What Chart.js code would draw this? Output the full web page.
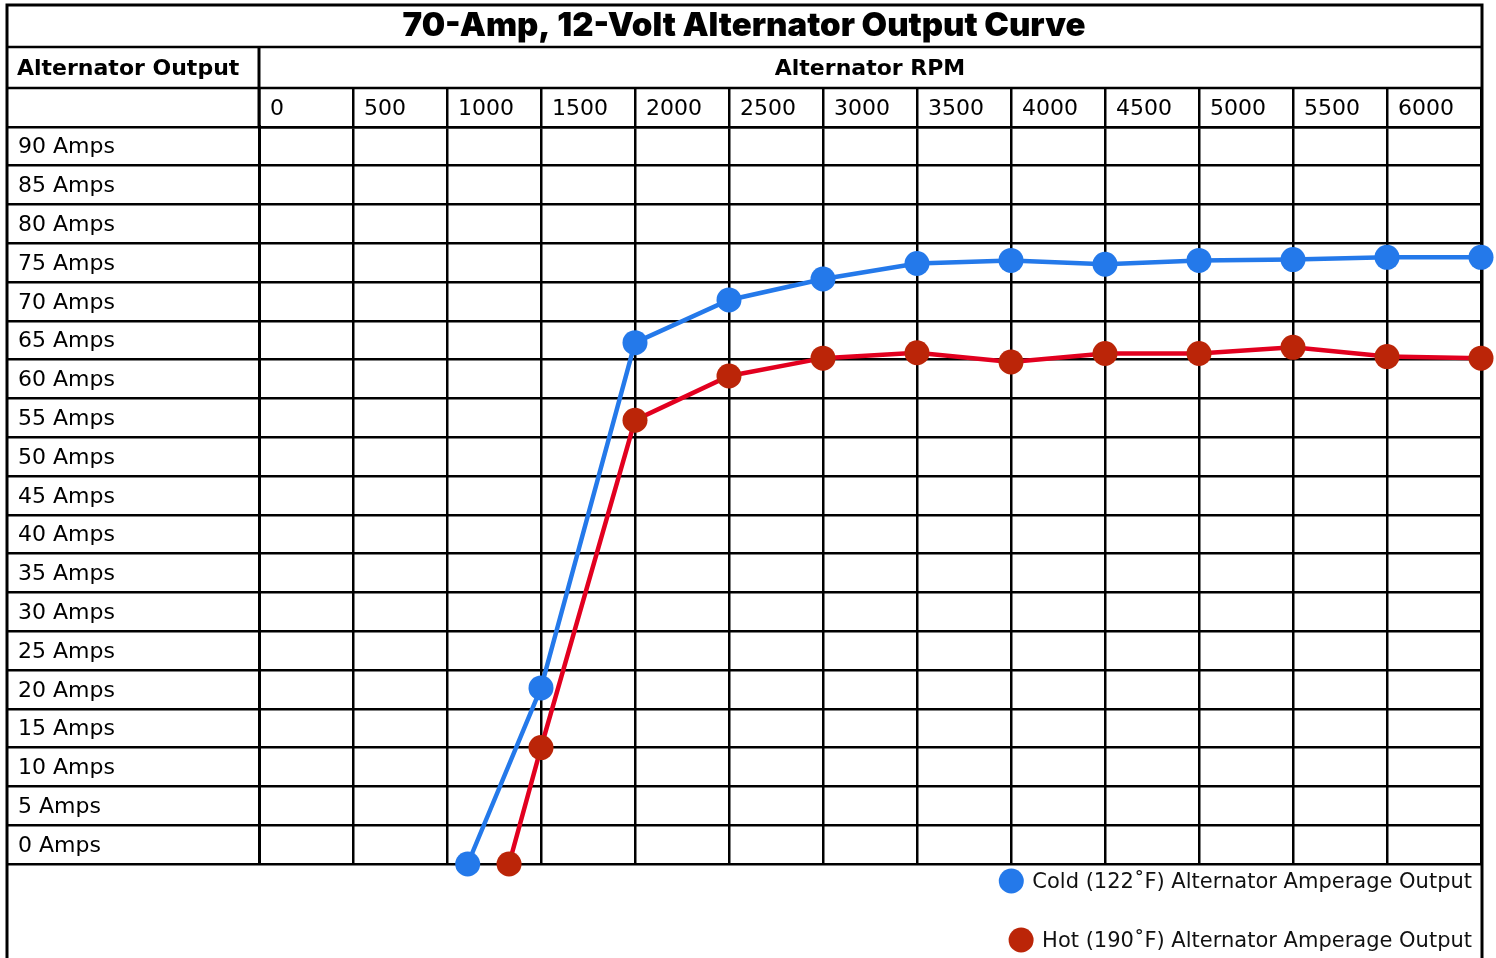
<!DOCTYPE html>
<html>
<head>
<meta charset="utf-8">
<script src="https://cdn.jsdelivr.net/npm/chart.js@4.4.1/dist/chart.umd.min.js"></script>
<style>
html,body{margin:0;padding:0;background:#fff;}
canvas{display:block;}
</style>
</head>
<body>
<canvas id="c" width="1496" height="958"></canvas>
<script>
// ---------- data ----------
const chartTitle = '70-Amp, 12-Volt Alternator Output Curve';
const rowHeader = 'Alternator Output';
const colHeader = 'Alternator RPM';
const rpmTickLabels = ['0','500','1000','1500','2000','2500','3000','3500','4000','4500','5000','5500','6000',''];
const ampTickLabels = ['0 Amps','5 Amps','10 Amps','15 Amps','20 Amps','25 Amps','30 Amps','35 Amps','40 Amps','45 Amps','50 Amps','55 Amps','60 Amps','65 Amps','70 Amps','75 Amps','80 Amps','85 Amps','90 Amps',''];
const seriesLabels = ['Cold (122\u02DAF) Alternator Amperage Output', 'Hot (190\u02DAF) Alternator Amperage Output'];
const coldRpm  = [1110, 1500, 2000, 2500, 3000, 3500, 4000, 4500, 5000, 5500, 6000, 6500];
const coldAmps = [0, 22.7, 67.2, 72.7, 75.4, 77.4, 77.8, 77.3, 77.8, 77.9, 78.2, 78.2];
const hotRpm   = [1330, 1500, 2000, 2500, 3000, 3500, 4000, 4500, 5000, 5500, 6000, 6500];
const hotAmps  = [0, 15.0, 57.2, 62.9, 65.2, 65.9, 64.7, 65.8, 65.8, 66.6, 65.4, 65.2];

const rpmStep = 500, ampStep = 5;
const coldColor = '#2479EA';
const hotLine = '#E2001F';
const hotPoint = '#BB2508';
const FONT = '"DejaVu Sans", sans-serif';
const TITLE_FONT = 'Inter, "DejaVu Sans", sans-serif';

const toXY = (xs, ys) => xs.map((x, i) => ({x: x, y: ys[i]}));

// ---------- table frame & header ----------
const tablePlugin = {
  id: 'tableFrame',
  beforeDatasetsDraw(chart) {
    const {ctx, chartArea, scales} = chart;
    const xs = scales.x;
    const L = 7, R = 1482, T = 5, B = chart.height + 5;
    const headTop = xs.top;
    const tickTop = xs.bottom - xs.options.grid.tickLength;
    ctx.save();
    ctx.strokeStyle = '#000';
    ctx.lineWidth = 2.5;
    ctx.beginPath();
    ctx.moveTo(L, headTop); ctx.lineTo(R, headTop);
    ctx.moveTo(L, tickTop); ctx.lineTo(R, tickTop);
    ctx.stroke();
    ctx.lineWidth = 3;
    ctx.beginPath();
    ctx.moveTo(chartArea.left, headTop); ctx.lineTo(chartArea.left, chartArea.top);
    ctx.stroke();
    ctx.beginPath();
    ctx.moveTo(L, B); ctx.lineTo(L, T); ctx.lineTo(R, T); ctx.lineTo(R, B);
    ctx.stroke();
    ctx.fillStyle = '#000';
    ctx.font = 'bold 22px ' + FONT;
    ctx.textAlign = 'left';
    ctx.textBaseline = 'middle';
    ctx.fillText(rowHeader, 17, (headTop + tickTop) / 2 + 2);
    ctx.restore();
  }
};

// ---------- legend (stacked, right aligned) ----------
const legendPlugin = {
  id: 'stackedLegend',
  afterDatasetsDraw(chart) {
    const {ctx} = chart;
    const rowsY = [883, 942];
    const right = 1472;
    ctx.save();
    ctx.font = '21px ' + FONT;
    ctx.textAlign = 'right';
    ctx.textBaseline = 'middle';
    chart.data.datasets.forEach((ds, i) => {
      const w = ctx.measureText(ds.label).width;
      const cy = rowsY[i];
      ctx.fillStyle = '#111';
      ctx.fillText(ds.label, right, cy);
      ctx.beginPath();
      ctx.arc(right - w - 21, cy - 2, 12.5, 0, Math.PI * 2);
      ctx.fillStyle = ds.pointBackgroundColor;
      ctx.fill();
    });
    ctx.restore();
  }
};

new Chart(document.getElementById('c'), {
  type: 'line',
  data: {
    datasets: [
      {
        label: seriesLabels[0],
        data: toXY(coldRpm, coldAmps),
        xAxisID: 'x',
        yAxisID: 'y',
        borderColor: coldColor,
        backgroundColor: coldColor,
        pointBackgroundColor: coldColor,
        pointBorderWidth: 0,
        pointRadius: 12.5,
        pointHoverRadius: 12.5,
        borderWidth: 4.5,
        tension: 0,
        clip: false
      },
      {
        label: seriesLabels[1],
        data: toXY(hotRpm, hotAmps),
        xAxisID: 'x',
        yAxisID: 'y',
        borderColor: hotLine,
        backgroundColor: hotPoint,
        pointBackgroundColor: hotPoint,
        pointBorderWidth: 0,
        pointRadius: 12.5,
        pointHoverRadius: 12.5,
        borderWidth: 4.5,
        tension: 0,
        clip: false
      }
    ]
  },
  options: {
    responsive: false,
    animation: false,
    devicePixelRatio: 1,
    events: [],
    layout: { padding: { left: 7, right: 15, top: 5, bottom: 94 } },
    plugins: {
      legend: { display: false },
      tooltip: { enabled: false },
      title: {
        display: true,
        text: chartTitle,
        color: '#000',
        font: { family: TITLE_FONT, size: 33, weight: 900, lineHeight: 1.15 },
        padding: { top: 2, bottom: 2 }
      }
    },
    scales: {
      spacer: {
        type: 'linear',
        position: 'left',
        weight: 10,
        display: true,
        min: 0,
        max: 1,
        grid: { display: false },
        border: { display: false },
        ticks: { display: false },
        afterFit(s) { s.width = 11; s.paddingTop = 0; s.paddingBottom = 0; }
      },
      x: {
        type: 'linear',
        position: 'top',
        min: 0,
        max: 6500,
        ticks: {
          stepSize: rpmStep,
          autoSkip: false,
          maxRotation: 0,
          minRotation: 0,
          align: 'start',
          labelOffset: 11,
          padding: -35,
          color: '#000',
          font: { family: FONT, size: 22 },
          callback: (v) => rpmTickLabels[Math.round(v / rpmStep)] ?? ''
        },
        grid: { color: '#000', lineWidth: 2.5, tickLength: 39, tickColor: '#000', tickWidth: 2.5, drawTicks: true },
        border: { color: '#000', width: 2.5 },
        title: {
          display: true,
          text: colHeader,
          color: '#000',
          font: { family: FONT, size: 22, weight: 'bold', lineHeight: 1.2 },
          padding: { top: 9, bottom: 0 }
        },
        afterFit(s) { s.height = 80; s.paddingLeft = 0; s.paddingRight = 0; }
      },
      y: {
        type: 'linear',
        position: 'left',
        weight: 1,
        min: 0,
        max: 95,
        ticks: {
          stepSize: ampStep,
          autoSkip: false,
          crossAlign: 'far',
          labelOffset: -18,
          color: '#000',
          font: { family: FONT, size: 22 },
          callback: (v) => ampTickLabels[Math.round(v / ampStep)] ?? ''
        },
        grid: { color: '#000', lineWidth: 2.5, tickLength: 252, tickColor: '#000', tickWidth: 2.5, drawTicks: true },
        border: { color: '#000', width: 3 },
        afterFit(s) { s.width = 241; s.paddingTop = 0; s.paddingBottom = 0; }
      }
    }
  },
  plugins: [tablePlugin, legendPlugin]
});
</script>
</body>
</html>
